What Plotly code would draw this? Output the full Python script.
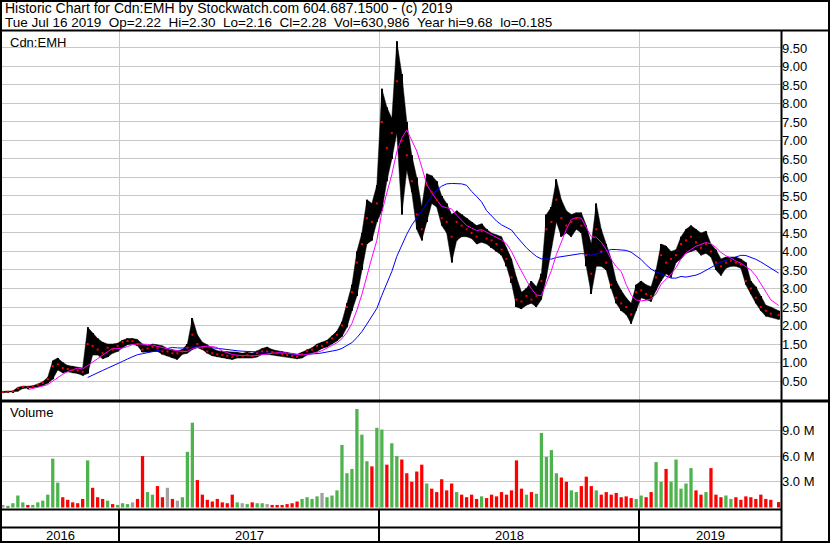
import pandas as pd
import plotly.graph_objects as go

# ---------------- data (weekly) ----------------
week_end = [d.strftime("%Y-%m-%d") for d in pd.date_range("2016-07-22", periods=155, freq="7D")] + ["2019-07-16"]

high = [0.22, 0.22, 0.23, 0.33, 0.36, 0.36, 0.37, 0.42, 0.48, 0.60,
        1.05, 1.12, 1.00, 0.92, 0.90, 0.88, 0.85, 1.95, 1.80, 1.65,
        1.55, 1.50, 1.50, 1.52, 1.60, 1.65, 1.65, 1.62, 1.50, 1.45,
        1.50, 1.48, 1.45, 1.38, 1.35, 1.32, 1.35, 1.50, 2.20, 1.75,
        1.55, 1.48, 1.38, 1.32, 1.30, 1.30, 1.28, 1.28, 1.25, 1.28,
        1.25, 1.32, 1.38, 1.42, 1.35, 1.32, 1.30, 1.28, 1.25, 1.22,
        1.28, 1.35, 1.40, 1.50, 1.55, 1.60, 1.72, 1.85, 2.10, 2.60,
        3.10, 4.00, 4.50, 5.40, 5.30, 5.80, 8.40, 7.90, 7.60, 9.68,
        8.80, 7.50, 6.60, 6.00, 5.20, 6.10, 6.05, 5.90, 5.50, 5.30,
        5.00, 5.10, 5.00, 4.90, 4.80, 4.70, 4.75, 4.60, 4.50, 4.45,
        4.40, 4.10, 3.80, 3.30, 2.90, 3.00, 3.20, 3.05, 3.40, 5.00,
        5.20, 5.95, 5.40, 5.10, 5.00, 5.05, 5.05, 4.70, 4.20, 5.30,
        4.60, 4.20, 3.80, 3.20, 2.95, 2.75, 2.60, 3.10, 3.20, 3.10,
        3.05, 3.50, 4.20, 4.15, 4.00, 4.05, 4.40, 4.60, 4.70, 4.60,
        4.50, 4.55, 4.20, 4.05, 3.80, 3.85, 3.85, 3.85, 3.80, 3.70,
        3.20, 3.05, 2.80, 2.55, 2.50, 2.40]

low = [0.185, 0.19, 0.20, 0.22, 0.30, 0.31, 0.32, 0.34, 0.38, 0.44,
       0.55, 0.80, 0.72, 0.75, 0.72, 0.70, 0.65, 0.70, 1.20, 1.20,
       1.10, 1.15, 1.25, 1.30, 1.40, 1.48, 1.50, 1.45, 1.28, 1.28,
       1.30, 1.30, 1.22, 1.18, 1.12, 1.08, 1.22, 1.25, 1.35, 1.40,
       1.35, 1.25, 1.18, 1.15, 1.12, 1.10, 1.08, 1.12, 1.12, 1.12,
       1.12, 1.15, 1.22, 1.22, 1.20, 1.18, 1.18, 1.15, 1.12, 1.10,
       1.12, 1.20, 1.25, 1.30, 1.38, 1.42, 1.50, 1.58, 1.70, 1.95,
       2.40, 2.80, 3.50, 4.20, 4.30, 4.80, 5.10, 5.90, 6.50, 7.20,
       5.00, 6.20, 5.60, 4.60, 4.30, 4.80, 5.30, 5.20, 4.70, 4.50,
       3.70, 4.30, 4.40, 4.40, 4.35, 4.20, 4.25, 4.20, 4.10, 4.00,
       3.90, 3.60, 3.15, 2.50, 2.45, 2.55, 2.60, 2.50, 2.70, 3.30,
       4.10, 4.80, 4.40, 4.50, 4.40, 4.60, 4.50, 3.60, 2.85, 3.60,
       3.60, 3.50, 3.00, 2.60, 2.40, 2.30, 2.05, 2.40, 2.75, 2.70,
       2.65, 2.95, 3.20, 3.40, 3.30, 3.70, 3.80, 3.95, 4.00, 4.05,
       3.90, 3.95, 3.85, 3.50, 3.35, 3.55, 3.60, 3.60, 3.55, 3.10,
       2.85, 2.60, 2.40, 2.25, 2.22, 2.16]

close = [0.20, 0.21, 0.22, 0.31, 0.34, 0.33, 0.35, 0.40, 0.45, 0.55,
         0.90, 0.95, 0.85, 0.82, 0.80, 0.78, 0.75, 1.50, 1.45, 1.35,
         1.25, 1.40, 1.35, 1.45, 1.55, 1.58, 1.58, 1.50, 1.35, 1.38,
         1.42, 1.38, 1.30, 1.30, 1.25, 1.25, 1.30, 1.40, 1.75, 1.50,
         1.40, 1.30, 1.25, 1.22, 1.20, 1.18, 1.15, 1.18, 1.18, 1.20,
         1.18, 1.25, 1.30, 1.30, 1.28, 1.25, 1.22, 1.20, 1.18, 1.15,
         1.22, 1.30, 1.35, 1.45, 1.45, 1.55, 1.65, 1.75, 2.00, 2.50,
         2.90, 3.70, 4.20, 4.90, 4.80, 5.30, 7.50, 6.80, 7.20, 8.60,
         7.00, 6.60, 5.90, 5.00, 4.60, 5.80, 5.60, 5.40, 4.90, 4.80,
         4.40, 4.80, 4.70, 4.60, 4.50, 4.40, 4.55, 4.35, 4.30, 4.20,
         4.05, 3.80, 3.30, 2.70, 2.65, 2.80, 2.70, 2.80, 3.20, 4.60,
         4.80, 5.40, 4.90, 4.70, 4.80, 4.90, 4.70, 3.90, 3.40, 4.60,
         4.00, 3.70, 3.10, 2.75, 2.60, 2.50, 2.30, 2.90, 2.95, 2.85,
         2.80, 3.30, 3.90, 3.70, 3.80, 3.90, 4.20, 4.30, 4.40, 4.25,
         4.10, 4.20, 4.00, 3.70, 3.60, 3.70, 3.75, 3.70, 3.65, 3.20,
         3.00, 2.75, 2.50, 2.40, 2.32, 2.28]

volume_m = [0.3, 0.2, 0.5, 1.4, 0.6, 0.3, 0.3, 0.6, 0.8, 1.5,
            5.7, 2.9, 1.2, 0.9, 0.6, 0.5, 1.0, 5.5, 2.3, 1.2,
            1.0, 0.8, 0.4, 0.3, 0.5, 0.4, 0.6, 1.0, 6.0, 1.8,
            1.5, 2.5, 1.2, 2.3, 1.0, 0.8, 1.2, 6.5, 9.9, 3.2,
            1.5, 0.9, 0.7, 1.0, 0.6, 0.5, 1.5, 0.6, 0.5, 0.4,
            0.6, 0.5, 0.5, 0.4, 0.3, 0.3, 0.3, 0.4, 0.5, 0.7,
            1.0, 1.2, 1.0, 1.3, 1.7, 1.2, 1.4, 2.0, 7.3, 4.0,
            4.5, 11.5, 8.5, 5.4, 4.8, 9.3, 9.1, 5.0, 7.5, 6.0,
            5.6, 4.0, 3.0, 4.2, 5.0, 2.8, 2.2, 1.8, 3.3, 2.0,
            2.8, 1.8, 1.5, 1.2, 1.5, 1.0, 1.3, 1.1, 1.5, 1.3,
            1.8, 1.5, 2.0, 5.5, 2.2, 1.5, 1.8, 1.6, 8.7, 5.9,
            6.7, 4.0, 3.5, 3.0, 2.0, 1.8, 2.5, 3.6, 2.5, 2.0,
            1.5, 1.8, 1.5, 1.7, 1.2, 1.3, 1.1, 1.0, 1.4, 1.2,
            1.8, 5.3, 3.0, 4.5, 3.0, 5.6, 2.2, 2.8, 4.6, 2.0,
            1.5, 1.8, 4.6, 1.5, 1.2, 1.4, 1.0, 1.2, 0.9, 1.3,
            1.2, 1.0, 1.5, 1.0, 0.9, 0.63]

price_ticks = [0.5 * k for k in range(1, 20)]
vol_ticks_m = [3.0, 6.0, 9.0]
years = ["2016", "2017", "2018", "2019"]

header1 = "Historic Chart for Cdn:EMH by Stockwatch.com 604.687.1500 - (c) 2019"
header2 = ("Tue Jul 16 2019\u00a0\u00a0Op=2.22\u00a0\u00a0Hi=2.30\u00a0\u00a0Lo=2.16\u00a0\u00a0Cl=2.28"
           "\u00a0\u00a0Vol=630,986\u00a0\u00a0Year hi=9.68\u00a0\u00a0lo=0.185")

# ---------------- derived ----------------
cs = pd.Series(close)
ma_short = cs.rolling(6).mean()   # ~30 trading days
ma_long = cs.rolling(18).mean()   # ~90 trading days

vol_colors = []
for i, c in enumerate(close):
    if i == 0 or c == close[i - 1]:
        vol_colors.append("#A0A0A0")
    elif c > close[i - 1]:
        vol_colors.append("#4DB34D")
    else:
        vol_colors.append("#FF0000")

# ---------------- layout helpers ----------------
W, H = 830, 543
def px(x):
    return x / W
def py(y):
    return 1 - y / H

FONT = "Liberation Sans, Arial, sans-serif"
DAY = 86400000
x_start = pd.Timestamp("2016-07-20 18:00")
x_end = pd.Timestamp("2019-07-19 08:00")

fig = go.Figure()
# price range band (low..high) as a filled black band
fig.add_trace(go.Scatter(x=week_end, y=low, mode="lines", line=dict(color="black", width=0.5),
                         xaxis="x", yaxis="y", hoverinfo="skip"))
fig.add_trace(go.Scatter(x=week_end, y=high, mode="lines", line=dict(color="black", width=0.5),
                         fill="tonexty", fillcolor="black", xaxis="x", yaxis="y", hoverinfo="skip"))
# weekly high-low bars for texture
fig.add_trace(go.Bar(x=week_end, base=low, y=[h - l for h, l in zip(high, low)],
                     width=1.6 * DAY, marker=dict(color="black", line=dict(width=0)),
                     xaxis="x", yaxis="y", hoverinfo="skip"))
fig.add_trace(go.Scatter(x=week_end, y=ma_long, mode="lines", line=dict(color="#0000FF", width=1),
                         xaxis="x", yaxis="y", hoverinfo="skip"))
fig.add_trace(go.Scatter(x=week_end, y=ma_short, mode="lines", line=dict(color="#FF00FF", width=1),
                         xaxis="x", yaxis="y", hoverinfo="skip"))
fig.add_trace(go.Scatter(x=week_end, y=close, mode="markers",
                         marker=dict(symbol="square", size=2, color="#FF0000", line=dict(width=0)),
                         xaxis="x", yaxis="y", hoverinfo="skip"))
fig.add_trace(go.Bar(x=week_end, y=[v * 1e6 for v in volume_m], width=4.6 * DAY,
                     marker=dict(color=vol_colors, line=dict(width=0)),
                     xaxis="x2", yaxis="y2", hoverinfo="skip"))

xcommon = dict(type="date", domain=[px(2), px(781)], range=[x_start, x_end],
               showticklabels=False, showgrid=True, gridcolor="#C8C8C8", gridwidth=1,
               tick0="2017-01-01", dtick="M12", ticks="", zeroline=False, showline=False)

shapes = []
def line(x0, y0, x1, y1, w=2, color="black", xref="paper"):
    shapes.append(dict(type="line", xref=xref, yref="paper", x0=x0, y0=py(y0), x1=x1, y1=py(y1),
                       line=dict(color=color, width=w)))

line(px(0), 30.5, px(830), 30.5)
line(px(781.5), 31, px(781.5), 543)
line(px(0), 401, px(830), 401, w=3)
line(px(0), 509.5, px(781.5), 509.5)
line(px(0), 527.5, px(781.5), 527.5)
for yb in years[1:]:
    line(yb + "-01-01", 509.5, yb + "-01-01", 543, xref="x")
shapes.append(dict(type="rect", xref="paper", yref="paper", x0=px(1), x1=px(829), y0=py(542), y1=py(1),
                   line=dict(color="black", width=2)))

annotations = [
    dict(text=header1, x=px(3), y=py(8), xanchor="left", yanchor="middle", font=dict(size=14)),
    dict(text=header2, x=px(3), y=py(22), xanchor="left", yanchor="middle", font=dict(size=13.5)),
    dict(text="Cdn:EMH", x=px(8), y=py(42), xanchor="left", yanchor="middle", font=dict(size=13)),
    dict(text="Volume", x=px(8), y=py(413), xanchor="left", yanchor="middle", font=dict(size=13)),
]
for a in annotations:
    a["font"].update(family=FONT, color="black")
    a.update(xref="paper", yref="paper", showarrow=False)

bounds = [x_start] + [pd.Timestamp(y + "-01-01") for y in years[1:]] + [x_end]
for i, yname in enumerate(years):
    mid = bounds[i] + (bounds[i + 1] - bounds[i]) / 2
    annotations.append(dict(text=yname, x=mid, y=py(535), xref="x", yref="paper", showarrow=False,
                            xanchor="center", yanchor="middle", font=dict(family=FONT, size=13, color="black")))

fig.update_layout(
    width=W, height=H, margin=dict(l=0, r=0, t=0, b=0),
    paper_bgcolor="white", plot_bgcolor="white", showlegend=False, hovermode=False,
    font=dict(family=FONT, size=13, color="black"),
    xaxis=dict(anchor="y", **xcommon),
    xaxis2=dict(anchor="y2", matches="x", **xcommon),
    yaxis=dict(domain=[py(400), py(31)], range=[-0.0135, 9.959], side="right", anchor="x",
               tickvals=price_ticks, ticktext=["%.2f" % v for v in price_ticks],
               showgrid=True, gridcolor="#C8C8C8", gridwidth=1, ticks="", zeroline=False, showline=False,
               tickfont=dict(family=FONT, size=13, color="black")),
    yaxis2=dict(domain=[py(509), py(401)], range=[-0.175e6, 12.43e6], side="right", anchor="x2",
                tickvals=[v * 1e6 for v in vol_ticks_m], ticktext=["%.1f M" % v for v in vol_ticks_m],
                showgrid=True, gridcolor="#C8C8C8", gridwidth=1, ticks="", zeroline=False, showline=False,
                tickfont=dict(family=FONT, size=13, color="black")),
    barmode="overlay",
    shapes=shapes, annotations=annotations,
)

fig.write_html("out.html", config={"displayModeBar": False},
               post_script="document.body.style.margin='0px';document.body.style.overflow='hidden';")
